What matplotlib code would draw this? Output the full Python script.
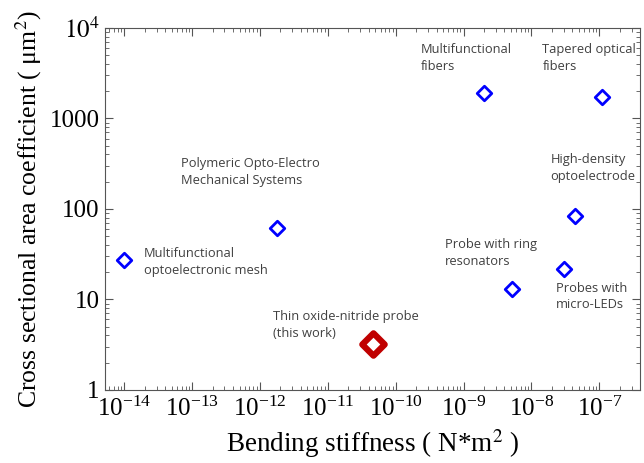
import matplotlib
matplotlib.use("Agg")
import matplotlib.pyplot as plt
import numpy as np
from matplotlib.ticker import FuncFormatter, LogLocator

plt.rcParams['font.family'] = 'Liberation Serif'
plt.rcParams['mathtext.fontset'] = 'stix'

# data
names = ["Multifunctional\noptoelectronic mesh",
         "Polymeric Opto-Electro\nMechanical Systems",
         "Multifunctional\nfibers",
         "Tapered optical\nfibers",
         "High-density\noptoelectrode",
         "Probe with ring\nresonators",
         "Probes with\nmicro-LEDs"]
stiffness = [1.0e-14, 1.8e-12, 2.0e-9, 1.08e-7, 4.4e-8, 5.1e-9, 3.0e-8]
area = [27, 62, 1900, 1730, 83, 13, 21.7]

# label anchor points (left, vertical centre)
label_x = [1.97e-14, 6.9e-14, 2.35e-10, 1.45e-8, 1.92e-8, 5.37e-10, 2.28e-8]
label_y = [26, 257, 4670, 4670, 284, 32.7, 10.7]

this_name = "Thin oxide-nitride probe\n(this work)"
this_stiffness = 4.6e-11
this_area = 3.2
this_label_xy = (1.58e-12, 5.2)

fig = plt.figure(figsize=(6.44, 4.63), dpi=100)
ax = fig.add_axes([0.163, 0.158, 0.831, 0.7815])

ax.scatter(stiffness, area, marker='D', s=55, facecolors='white',
           edgecolors='#0000ff', linewidths=2, zorder=3)
ax.scatter([this_stiffness], [this_area], marker='D', s=130, facecolors='white',
           edgecolors='#c00000', linewidths=4.5, zorder=3)

for name, x, y in zip(names, label_x, label_y):
    ax.text(x, y, name, family='Open Sans', fontsize=9.3, color='#404040',
            ha='left', va='center', linespacing=1.35)
ax.text(this_label_xy[0], this_label_xy[1], this_name, family='Open Sans',
        fontsize=9.3, color='#404040', ha='left', va='center', linespacing=1.35)

ax.set_xscale('log')
ax.set_yscale('log')
ax.set_xlim(5.2e-15, 4.0e-7)
ax.set_ylim(1, 1e4)

ax.xaxis.set_major_locator(LogLocator(base=10, numticks=20))
ax.xaxis.set_minor_locator(LogLocator(base=10, subs=np.arange(2, 10), numticks=20))


def yfmt(v, pos):
    if v >= 1e4:
        return r'$10^4$'
    return '%d' % v


ax.yaxis.set_major_formatter(FuncFormatter(yfmt))

ax.tick_params(which='both', direction='in', top=True, right=True,
               labelsize=18, color='#555555')
ax.tick_params(which='major', length=6)
ax.tick_params(which='minor', length=3)
ax.tick_params(axis='x', pad=5)
ax.tick_params(axis='y', pad=4)
for sp in ax.spines.values():
    sp.set_color('#555555')

ax.set_xlabel(r'Bending stiffness ( N*m$^2$ )', fontsize=19.5, labelpad=4)
ax.set_ylabel(r'Cross sectional area coefficient ( μm$^2$)', fontsize=18.5,
              labelpad=4)

fig.savefig("out.png", dpi=100)
